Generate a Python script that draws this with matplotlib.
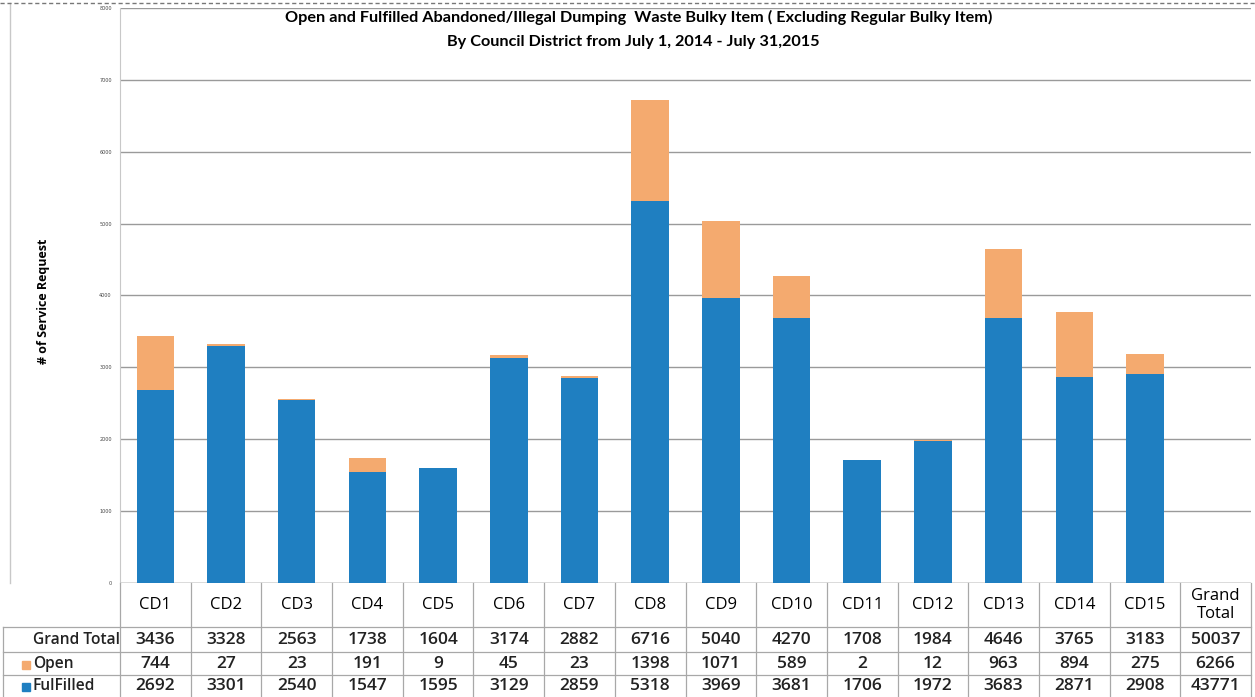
import matplotlib
matplotlib.use("Agg")
import matplotlib.pyplot as plt
from matplotlib.lines import Line2D
from matplotlib.patches import Rectangle
from matplotlib.transforms import blended_transform_factory
import numpy as np

# Service requests per council district
districts = ["CD1", "CD2", "CD3", "CD4", "CD5", "CD6", "CD7", "CD8",
             "CD9", "CD10", "CD11", "CD12", "CD13", "CD14", "CD15"]
open_counts = [744, 27, 23, 191, 9, 45, 23, 1398, 1071, 589, 2, 12, 963, 894, 275]
fulfilled_counts = [2692, 3301, 2540, 1547, 1595, 3129, 2859, 5318, 3969,
                    3681, 1706, 1972, 3683, 2871, 2908]
total_label = "Grand\nTotal"
y_ticks = [0, 1000, 2000, 3000, 4000, 5000, 6000, 7000, 8000]

BLUE = "#1f7fc1"
ORANGE = "#f4aa6f"
GRID = "#9a9a9a"
TEXT_FONT = ["Open Sans", "DejaVu Sans"]
TITLE_FONT = ["Lato", "DejaVu Sans"]

W, H = 1255, 697
fig = plt.figure(figsize=(W / 100, H / 100), dpi=100)
ax = fig.add_axes([120 / W, 1 - 583 / H, (1251 - 120) / W, (583 - 8) / H])

x = np.arange(len(districts))
grand_totals = [o + f for o, f in zip(open_counts, fulfilled_counts)]
all_open = sum(open_counts)
all_fulfilled = sum(fulfilled_counts)

ax.bar(x, fulfilled_counts, width=0.53, color=BLUE, zorder=3)
ax.bar(x, open_counts, width=0.53, bottom=fulfilled_counts, color=ORANGE, zorder=3)

ax.set_xlim(-0.5, len(districts) + 0.5)
ax.set_ylim(0, 8000)
ax.set_yticks(y_ticks)
ax.set_yticklabels([str(v) for v in y_ticks], fontsize=3.5, color="#444444")
ax.tick_params(axis="y", length=0, pad=6)
ax.set_xticks([])
ax.grid(axis="y", color=GRID, linewidth=1.0, zorder=0)
for side in ["top", "right", "bottom"]:
    ax.spines[side].set_visible(False)
ax.spines["left"].set_color("#c8c8c8")
ax.axhline(0, color=GRID, linewidth=1.0, zorder=2)

ax.set_ylabel("# of Service Request", fontsize=9, fontweight="bold",
              family=TEXT_FONT, labelpad=0)
ax.yaxis.set_label_coords(-(120 - 50) / (1251 - 120), 0.49)

fig.text(639 / W, 1 - 17 / H,
         "Open and Fulfilled Abandoned/Illegal Dumping  Waste Bulky Item ( Excluding Regular Bulky Item)",
         ha="center", va="center", fontsize=11.7, fontweight="bold", family=TITLE_FONT)
fig.text(633 / W, 1 - 42 / H, "By Council District from July 1, 2014 - July 31,2015",
         ha="center", va="center", fontsize=11.7, fontweight="bold", family=TITLE_FONT)

# Data table under the chart
def fy(py):
    return 1 - py / H

trans = blended_transform_factory(ax.transData, fig.transFigure)
line_kw = dict(color="#a8a8a8", linewidth=0.9)

n_cols = len(districts) + 1
for i in range(n_cols + 1):
    xe = -0.5 + i
    fig.add_artist(Line2D([xe, xe], [fy(583), fy(697)], transform=trans, **line_kw))
for py in [627, 652, 675]:
    fig.add_artist(Line2D([3 / W, 1251 / W], [fy(py), fy(py)], **line_kw))
fig.add_artist(Line2D([3 / W, 3 / W], [fy(627), fy(697)], **line_kw))

header_y, rows_y = fy(605), [fy(640), fy(664), fy(686)]
head_kw = dict(ha="center", va="center", fontsize=12, family=TEXT_FONT, transform=trans)
cell_kw = dict(ha="center", va="center", fontsize=12.5, fontweight="semibold",
               family=TEXT_FONT, transform=trans, color="#222222")
for i, name in enumerate(districts):
    fig.text(x[i], header_y, name, **head_kw)
    fig.text(x[i], rows_y[0], str(grand_totals[i]), **cell_kw)
    fig.text(x[i], rows_y[1], str(open_counts[i]), **cell_kw)
    fig.text(x[i], rows_y[2], str(fulfilled_counts[i]), **cell_kw)

last = len(districts)
fig.text(last, header_y, total_label, linespacing=1.2, **head_kw)
fig.text(last, rows_y[0], str(sum(grand_totals)), **cell_kw)
fig.text(last, rows_y[1], str(all_open), **cell_kw)
fig.text(last, rows_y[2], str(all_fulfilled), **cell_kw)

label_kw = dict(ha="left", va="center", fontsize=11.2, fontweight="semibold",
                family=TEXT_FONT, color="#222222")
fig.text(33 / W, rows_y[0], "Grand Total", **label_kw)
fig.text(33 / W, rows_y[1], "Open", **label_kw)
fig.text(33 / W, rows_y[2], "FulFilled", **label_kw)
for color, ry in [(ORANGE, rows_y[1]), (BLUE, rows_y[2])]:
    fig.add_artist(Rectangle((22 / W, ry - 4.5 / H), 8 / W, 8 / H,
                             transform=fig.transFigure, color=color))

# Outer chart frame
fig.add_artist(Line2D([10 / W, 10 / W], [fy(3), fy(583)], color="#c8c8c8", linewidth=1))
fig.add_artist(Line2D([0, 1], [fy(3), fy(3)], color="#777777", linewidth=1,
                      linestyle=(0, (3, 2))))

fig.savefig("out.png", dpi=100)
